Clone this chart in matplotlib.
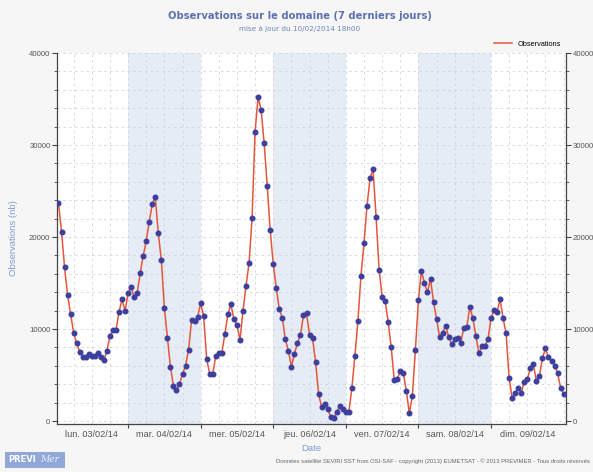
import numpy as np
import matplotlib
matplotlib.use("Agg")
import matplotlib.pyplot as plt
from matplotlib.patches import Rectangle
from matplotlib.ticker import MultipleLocator, NullFormatter

# hourly counts, lun. 03/02/14 01h -> lun. 10/02/14 00h
hours = np.arange(1, 169)
obs = [
    23660, 20580, 16700, 13700, 11630, 9600, 8450, 7530, 6990, 6990,
    7250, 7070, 7070, 7420, 6990, 6630, 7600, 9270, 9890, 9890,
    11820, 13230, 11960, 13880, 14600, 13450, 13880, 16050, 17940, 19570,
    21660, 23590, 24320, 20400, 17500, 12320, 9050, 5900, 3800, 3370,
    4020, 5080, 6010, 7720, 10980, 10870, 11340, 12790, 11410, 6710,
    5110, 5110, 7070, 7420, 7420, 9460, 11600, 12690, 11050, 10430,
    8800, 11960, 14710, 17140, 22100, 31450, 35250, 33800, 30190, 25580,
    20760, 17030, 14490, 12140, 11230, 8880, 7640, 5900, 7280, 8510,
    9350, 11520, 11700, 9350, 8990, 6410, 2930, 1500, 1850, 1300,
    470, 290, 1010, 1600, 1300, 1010, 1010, 3550, 7100, 10900,
    15760, 19320, 23370, 26380, 27360, 22210, 16410, 13510, 13080, 10730,
    8010, 4460, 4530, 5440, 5180, 3290, 840, 2750, 7720, 13150,
    16340, 14970, 13990, 15440, 12900, 11090, 9160, 9600, 10360, 9160,
    8340, 8910, 8990, 8510, 10140, 10250, 12400, 11160, 9270, 7360,
    8150, 8150, 8880, 11160, 12070, 11880, 13230, 11160, 9530, 4640,
    2470, 3080, 3550, 3080, 4270, 4530, 5730, 6160, 4350, 4920,
    6820, 7900, 6920, 6550, 6010, 5250, 3620, 2930,
]
day_labels = ["lun. 03/02/14", "mar. 04/02/14", "mer. 05/02/14", "jeu. 06/02/14",
              "ven. 07/02/14", "sam. 08/02/14", "dim. 09/02/14"]
shaded_days = [1, 3, 5]

title_col = "#5b73b0"
axis_col = "#7f9bd3"
text_col = "#555555"
lab_font = "Liberation Sans"

fig = plt.figure(figsize=(5.93, 4.72), dpi=100, facecolor="#f6f6f6")
ax = fig.add_axes([0.0961, 0.1021, 0.8584, 0.7856])
ax.set_facecolor("white")

for d in shaded_days:
    ax.axvspan(d * 24, (d + 1) * 24, color="#e6ecf5", lw=0, zorder=0)

ax.plot(hours, obs, color="#e4553c", lw=1.1, zorder=3, label="Observations")
ax.plot(hours, obs, ls="none", marker="o", ms=3.3, mfc="#3c3f9e", mec="#3c3f9e",
        zorder=4)

ax.set_xlim(0.5, 168.8)
ax.set_ylim(-300, 40000)

# grid : every 6h and every 2000
ax.xaxis.set_minor_locator(MultipleLocator(6))
ax.yaxis.set_major_locator(MultipleLocator(10000))
ax.yaxis.set_minor_locator(MultipleLocator(2000))
ax.grid(which="both", ls=(0, (3, 4)), color="#d4d4d4", lw=0.6, zorder=1)
ax.set_axisbelow(True)

# day boundaries as ticks, day names at noon
ax.set_xticks([24 * k for k in range(1, 7)])
ax.xaxis.set_major_formatter(NullFormatter())
ax.tick_params(axis="x", which="major", length=3, color="#444444")
ax.tick_params(axis="x", which="minor", length=0)
for k, lab in enumerate(day_labels):
    ax.text(24 * k + 12, -1000, lab, ha="center", va="top", fontsize=6.6,
            color=text_col, family=lab_font)

ax.tick_params(axis="y", which="both", direction="out", color="#444444",
               labelsize=5.6, labelcolor=text_col, right=True, labelright=True,
               pad=1.2)
ax.tick_params(axis="y", which="major", length=3.5)
ax.tick_params(axis="y", which="minor", length=2)
for t in ax.get_yticklabels():
    t.set_family(lab_font)

ax.spines["top"].set_visible(False)
for s in ["left", "right", "bottom"]:
    ax.spines[s].set_color("#444444")
    ax.spines[s].set_linewidth(0.9)

ax.set_ylabel("Observations (nb)", fontsize=6.8, color=axis_col, family=lab_font)
ax.yaxis.set_label_coords(-0.076, 0.5)
ax.set_xlabel("Date", fontsize=6.8, color=axis_col, family=lab_font)
ax.xaxis.set_label_coords(0.5, -0.055)

ax.legend(loc="lower right", bbox_to_anchor=(1.0, 1.0), frameon=False,
          handlelength=2.4, borderaxespad=0.3,
          prop={"family": lab_font, "size": 5.3})

fig.text(0.506, 0.966, "Observations sur le domaine (7 derniers jours)",
         ha="center", va="center", fontsize=7.2, fontweight="bold",
         color=title_col)
fig.text(0.506, 0.94, "mise à jour du 10/02/2014 18h00", ha="center",
         va="center", fontsize=5.2, color="#6f84ba")

# footer: logo + credits
fig.patches.append(Rectangle((0.009, 0.009), 0.101, 0.034, transform=fig.transFigure,
                             fc="#8fa8d8", ec="none"))
fig.text(0.014, 0.026, "PREVI", ha="left", va="center", fontsize=6,
         fontweight="bold", color="white")
fig.text(0.068, 0.026, "Mer", ha="left", va="center", fontsize=6.5,
         style="italic", color="#eef2fb", family="DejaVu Serif")
fig.text(0.465, 0.022,
         "Données satellite SEVIRI SST from OSI-SAF - copyright (2013) EUMETSAT"
         " - © 2013 PREVIMER - Tous droits réservés",
         ha="left", va="center", fontsize=4.2, color="#666666", family=lab_font)

fig.savefig("out.png", dpi=100, facecolor=fig.get_facecolor())
